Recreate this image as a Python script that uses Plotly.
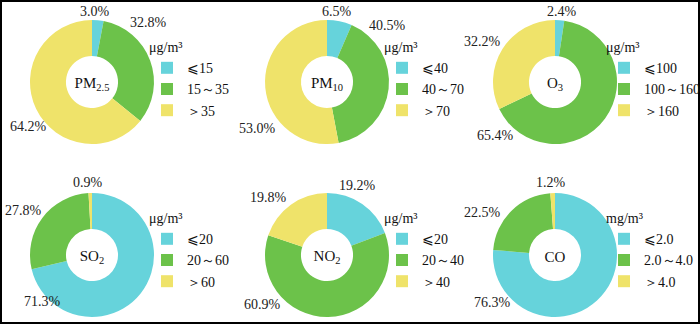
import plotly.graph_objects as go

pollutants = ["PM<sub>2.5</sub>", "PM<sub>10</sub>", "O<sub>3</sub>", "SO<sub>2</sub>", "NO<sub>2</sub>", "CO"]
units = ["μg/m³", "μg/m³", "μg/m³", "μg/m³", "μg/m³", "mg/m³"]
labels_pm25 = ["⩽15", "15～35", "＞35"]
labels_pm10 = ["⩽40", "40～70", "＞70"]
labels_o3 = ["⩽100", "100～160", "＞160"]
labels_so2 = ["⩽20", "20～60", "＞60"]
labels_no2 = ["⩽20", "20～40", "＞40"]
labels_co = ["⩽2.0", "2.0～4.0", "＞4.0"]
values_pm25 = [3.0, 32.8, 64.2]
values_pm10 = [6.5, 40.5, 53.0]
values_o3 = [2.4, 65.4, 32.2]
values_so2 = [71.3, 27.8, 0.9]
values_no2 = [19.2, 60.9, 19.8]
values_co = [76.3, 22.5, 1.2]

all_labels = [labels_pm25, labels_pm10, labels_o3, labels_so2, labels_no2, labels_co]
all_values = [values_pm25, values_pm10, values_o3, values_so2, values_no2, values_co]

colors = ["#66d3db", "#6cc24a", "#efe36a"]
FONT = "Liberation Serif"
W, H = 700, 324

# layout geometry (pixels)
centers_x = [92, 327, 555]
centers_y = [82, 255]
R = 62
legend_x = [147, 382, 604]
legend_y = [34, 205]
# percentage label positions (pixel offsets from donut centre), per slice
label_offsets = [
    [(3, -70), (56, -59), (-64, 45)],
    [(10, -70), (60, -57), (-70, 46)],
    [(7, -70), (-60, 53), (-72, -41)],
    [(-50, 46), (-69, -45), (-4, -73)],
    [(30, -70), (-65, 49), (-59, -58)],
    [(-63, 47), (-72, -43), (-4, -72)],
]

fig = go.Figure()
annotations = []
for i in range(6):
    col, row = i % 3, i // 3
    cx, cy = centers_x[col], centers_y[row]
    lg = "legend" if i == 0 else f"legend{i+1}"
    # zero-width suffix keeps identical labels of different charts distinct
    uniq = [lab + "\u200b" * i for lab in all_labels[i]]
    fig.add_trace(go.Pie(
        labels=uniq, values=all_values[i],
        hole=0.42, sort=False, direction="clockwise", rotation=0,
        marker=dict(colors=colors, line=dict(width=0)),
        textinfo="none",
        title=dict(text=pollutants[i], position="middle center",
                   font=dict(family=FONT, size=15, color="#111")),
        domain=dict(x=[(cx - R) / W, (cx + R) / W], y=[1 - (cy + R) / H, 1 - (cy - R) / H]),
        legend=lg, showlegend=True, hoverinfo="label+value",
    ))
    fig.update_layout({lg: dict(
        x=legend_x[col] / W, y=1 - legend_y[row] / H, xanchor="left", yanchor="top",
        title=dict(text=units[i], font=dict(family=FONT, size=14, color="#111")),
        font=dict(family=FONT, size=14, color="#111"),
        bgcolor="rgba(0,0,0,0)", itemwidth=30, tracegroupgap=0,
    )})
    for v, (dx, dy) in zip(all_values[i], label_offsets[i]):
        annotations.append(dict(
            text=f"{v:.1f}%", xref="paper", yref="paper",
            x=(cx + dx) / W, y=1 - (cy + dy) / H, showarrow=False,
            xanchor="center", yanchor="middle",
            font=dict(family=FONT, size=14, color="#222"),
        ))

fig.update_layout(
    width=W, height=H, margin=dict(l=0, r=0, t=0, b=0, autoexpand=False),
    paper_bgcolor="white", plot_bgcolor="white",
    annotations=annotations,
    shapes=[dict(type="rect", xref="paper", yref="paper", x0=0, y0=0, x1=1, y1=1,
                 line=dict(color="black", width=4))],
)
fig.write_html("out.html")
